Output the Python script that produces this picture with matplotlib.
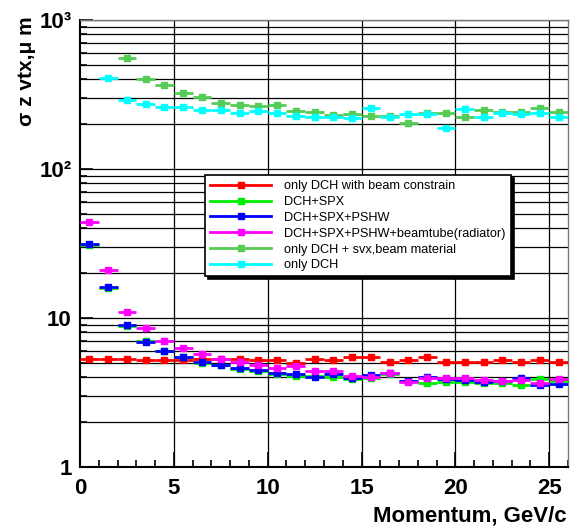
import numpy as np
import matplotlib
matplotlib.use("Agg")
import matplotlib.pyplot as plt
from matplotlib.lines import Line2D
from matplotlib.ticker import FixedLocator, FixedFormatter, MultipleLocator, LogLocator

plt.rcParams['font.family'] = ['Liberation Sans', 'DejaVu Sans']

# bin centres, GeV/c (bins of width 1)
momentum = np.arange(26) + 0.5
nan = np.nan

only_dch_bc = [5.3, 5.3, 5.3, 5.2, 5.2, 5.25, 5.3, 5.3, 5.3, 5.25, 5.25, 5.0, 5.3,
               5.2, 5.45, 5.45, 5.1, 5.2, 5.45, 5.1, 5.05, 5.1, 5.23, 5.04, 5.23, 5.04]
dch_spx = [31.0, 16.0, 8.8, 7.05, 6.0, 5.45, 5.0, 4.8, 4.55, 4.4, 4.2, 4.08, 4.08,
           4.04, 3.88, 3.94, 4.2, 3.79, 3.64, 3.74, 3.74, 3.64, 3.68, 3.55, 3.88, 3.79]
dch_spx_pshw = [31.2, 16.2, 8.97, 6.94, 6.04, 5.5, 5.05, 4.84, 4.6, 4.48, 4.3, 4.2, 4.04,
                4.21, 3.94, 4.14, 4.25, 3.8, 3.99, 3.88, 3.83, 3.74, 3.79, 3.98, 3.55, 3.58]
dch_spx_pshw_tube = [43.9, 21.0, 10.9, 8.53, 7.01, 6.29, 5.7, 5.33, 5.04, 4.84, 4.6, 4.76, 4.43,
                     4.43, 4.08, 4.03, 4.25, 3.74, 3.94, 3.94, 3.94, 3.83, 3.79, 3.83, 3.68, 3.9]
only_dch_svx = [nan, nan, 553, 400, 366, 322, 306, 279, 269, 265, 269, 246, 243,
                230, 234, 227, 227, 205, 237, 239, 222, 249, 243, 243, 258, 243]
only_dch = [nan, 406, 290, 273, 262, 262, 249, 249, 239, 246, 239, 227, 224,
            224, 219, 256, 222, 234, 234, 189, 252, 222, 239, 234, 237, 222]

series = [only_dch_bc, dch_spx, dch_spx_pshw, dch_spx_pshw_tube, only_dch_svx, only_dch]
labels = ["only DCH with beam constrain", "DCH+SPX", "DCH+SPX+PSHW",
          "DCH+SPX+PSHW+beamtube(radiator)", "only DCH + svx,beam material", "only DCH"]
colors = ["#ff0000", "#00ee00", "#0000ff", "#ff00ff", "#55cc55", "#00ffff"]

fig = plt.figure(figsize=(5.86, 5.28), dpi=100)
ax = fig.add_axes([80 / 586, 1 - 467 / 528, 488 / 586, 447 / 528])

for y, c in zip(series, colors):
    ax.errorbar(momentum, y, xerr=0.5, fmt='s', color=c, ms=4.5, elinewidth=2,
                capsize=0, zorder=3)

ax.set_yscale('log')
ax.set_xlim(0, 26)
ax.set_ylim(1, 1000)

# grid: every log tick horizontally, major ticks vertically
ygrid = [m * 10 ** e for e in range(0, 3) for m in range(1, 10)] + [1000]
for v in ygrid:
    ax.axhline(v, color='black', lw=0.9, zorder=1)
for v in [5, 10, 15, 20, 25]:
    ax.axvline(v, color='black', lw=0.9, zorder=1)

ax.xaxis.set_major_locator(MultipleLocator(5))
ax.xaxis.set_minor_locator(MultipleLocator(1))
ax.yaxis.set_major_locator(FixedLocator([1, 10, 100, 1000]))
ax.yaxis.set_major_formatter(FixedFormatter(['1', '10', '10²', '10³']))
ax.yaxis.set_minor_locator(LogLocator(base=10, subs=np.arange(2, 10)))
ax.yaxis.set_minor_formatter(plt.NullFormatter())

ax.tick_params(axis='both', which='both', direction='in', top=False, right=False)
ax.tick_params(axis='x', which='major', length=11, width=1.2, pad=8)
ax.tick_params(axis='x', which='minor', length=5, width=1.2)
ax.tick_params(axis='y', which='major', length=9, width=1.2, pad=6)
ax.tick_params(axis='y', which='minor', length=5, width=1.2)
for lab in ax.get_xticklabels() + ax.get_yticklabels():
    lab.set_fontsize(16)
    lab.set_fontweight('bold')

for s in ['left', 'bottom']:
    ax.spines[s].set_linewidth(1.5)
for s in ['right', 'top']:
    ax.spines[s].set_color('#777777')
    ax.spines[s].set_linewidth(1.0)

fig.text(567 / 586, 1 - 516 / 528, "Momentum, GeV/c", ha='right', va='center',
         fontsize=16, fontweight='bold')
fig.text(27 / 586, 1 - 16 / 528, "σ z vtx,μ m", rotation=90, ha='center', va='top',
         fontsize=15, fontweight='bold')

handles = [Line2D([], [], color=c, lw=2, marker='s', ms=4.5) for c in colors]
leg = ax.legend(handles, labels, loc='upper left', bbox_to_anchor=(0.256, 0.653),
                fontsize=9.2, handlelength=4.8, handletextpad=1.0, labelspacing=0.3,
                borderpad=0.4, borderaxespad=0, fancybox=False, framealpha=1,
                edgecolor='black', shadow={'color': 'black', 'alpha': 1, 'ox': 2, 'oy': -2})
leg.get_frame().set_linewidth(1.2)
leg.set_zorder(5)

fig.savefig("out.png", dpi=100)
